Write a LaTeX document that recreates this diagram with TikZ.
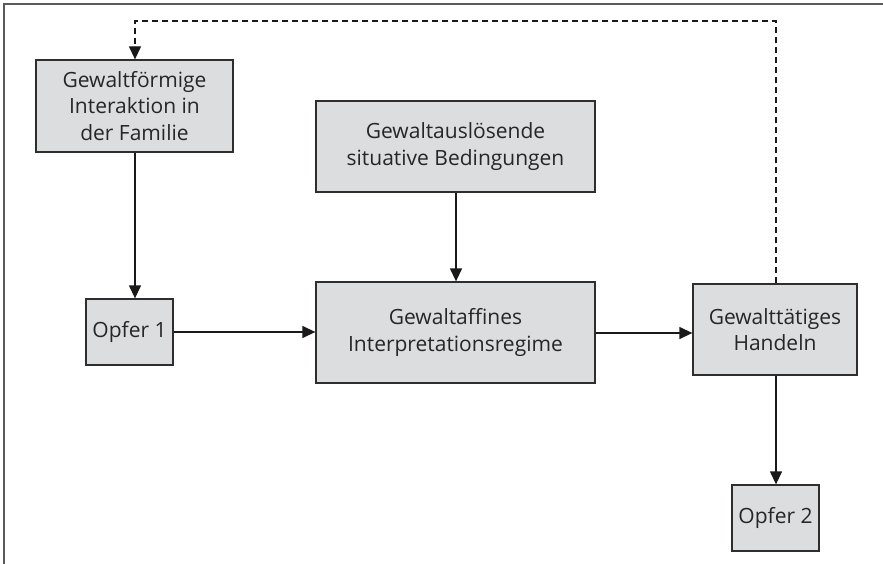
\documentclass[tikz,border=0pt]{standalone}
\usepackage{fontspec}
\setmainfont{Open Sans}
\usetikzlibrary{arrows.meta}
\definecolor{boxfill}{HTML}{DCDDDF}
\definecolor{boxline}{HTML}{2E2E2E}
\definecolor{framecol}{HTML}{5A5A5A}
\tikzset{
  stepbox/.style={draw=boxline, fill=boxfill, line width=1.3pt, align=center,
    inner sep=0pt, font=\fontsize{21}{26.5}\selectfont, text=black!85},
  conn/.style={draw=black!90, line width=1.3pt, -{Triangle[length=13pt,width=12pt]}},
  dconn/.style={conn, dash pattern=on 6pt off 4pt}
}
\begin{document}
\begin{tikzpicture}[x=1pt,y=-1pt]
\useasboundingbox (0,0) rectangle (883,564);
\draw[framecol, line width=1.6pt] (4,564) -- (4,4) -- (883,4);
\node[stepbox, minimum width=197pt, minimum height=92pt] (fam) at (134.5,106) {Gewaltförmige\\Interaktion in\\der Familie};
\node[stepbox, minimum width=87pt, minimum height=66pt] (o1) at (129.5,332) {Opfer 1};
\node[stepbox, minimum width=279pt, minimum height=91pt] (sit) at (455.5,146.5) {Gewaltauslösende\\situative Bedingungen};
\node[stepbox, minimum width=279pt, minimum height=101pt] (reg) at (455.5,332.5) {Gewaltaffines\\Interpretationsregime};
\node[stepbox, minimum width=164pt, minimum height=91pt] (hand) at (775,329.5) {Gewalttätiges\\Handeln};
\node[stepbox, minimum width=87pt, minimum height=66pt] (o2) at (775.5,518) {Opfer 2};
\coordinate (tr) at (776,21);
\coordinate (tl) at (135,21);
\coordinate (mid) at (456,240);
\draw[conn] (fam.south -| tl) -- (o1.north -| tl);
\draw[conn] (sit.south -| mid) -- (reg.north -| mid);
\draw[conn] (o1.east) -- (o1.east -| reg.west);
\draw[conn] (reg.east |- 0,333) -- (hand.west |- 0,333);
\draw[conn] (hand.south -| tr) -- (o2.north -| tr);
\draw[dconn] (hand.north -| tr) -- (tr) -- (tl) -- (fam.north -| tl);
\end{tikzpicture}
\end{document}
